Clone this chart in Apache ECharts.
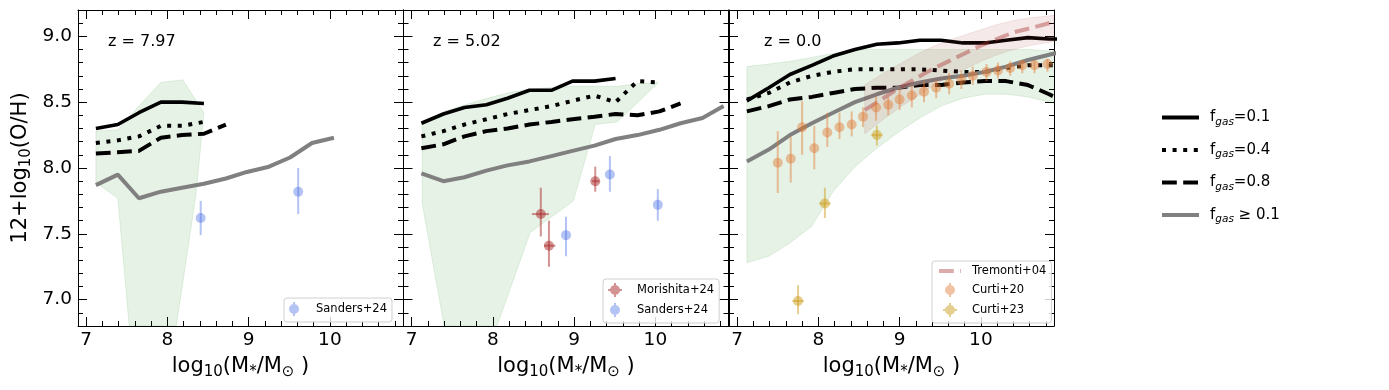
<!DOCTYPE html>
<html>
<head>
<meta charset="utf-8">
<script src="https://cdn.jsdelivr.net/npm/echarts@6/dist/echarts.min.js"></script>
<style>
  html, body { margin: 0; padding: 0; background: #fff; }
  #chart { width: 1389px; height: 390px; }
</style>
</head>
<body>
<div id="chart"></div>
<script>
// mass bins shared by the model curves
const massGrid = [7.12, 7.39, 7.65, 7.92, 8.18, 8.45, 8.72, 8.98, 9.25, 9.51, 9.78, 10.05, 10.31, 10.58, 10.84, 11.11];

// z = 7.97
const z8_f01 = [8.30, 8.33, 8.42, 8.50, 8.50, 8.49];
const z8_f04 = [8.19, 8.21, 8.24, 8.32, 8.32, 8.35];
const z8_f08 = [8.11, 8.12, 8.13, 8.23, 8.25, 8.26, 8.33];
const z8_all = [7.87, 7.95, 7.77, 7.82, 7.85, 7.88, 7.92, 7.97, 8.01, 8.08, 8.19, 8.23];
const z8_bandUpX = [7.12, 7.39, 7.65, 7.92, 8.19, 8.45];
const z8_bandUpY = [8.28, 8.29, 8.47, 8.65, 8.67, 8.42];
const z8_bandLoX = [7.12, 7.39, 7.53, 8.11, 8.35, 8.45];
const z8_bandLoY = [7.89, 7.77, 6.80, 6.80, 7.79, 8.42];

// z = 5.02
const z5_f01 = [8.34, 8.41, 8.46, 8.48, 8.53, 8.59, 8.59, 8.66, 8.66, 8.68];
const z5_f04 = [8.24, 8.28, 8.33, 8.37, 8.41, 8.44, 8.47, 8.51, 8.55, 8.50, 8.66, 8.65];
const z5_f08 = [8.15, 8.18, 8.24, 8.28, 8.30, 8.33, 8.35, 8.37, 8.39, 8.41, 8.40, 8.43, 8.49];
const z5_all = [7.96, 7.90, 7.93, 7.98, 8.02, 8.05, 8.09, 8.13, 8.17, 8.22, 8.25, 8.29, 8.34, 8.38, 8.47];
const z5_bandUpX = [7.13, 7.40, 7.66, 7.93, 8.18, 8.46, 8.71, 8.99, 9.26, 9.53, 9.77, 10.04];
const z5_bandUpY = [8.33, 8.43, 8.48, 8.53, 8.57, 8.60, 8.61, 8.62, 8.62, 8.62, 8.64, 8.65];
const z5_bandLoX = [7.13, 7.40, 8.05, 8.46, 8.99, 9.26, 9.53, 10.04];
const z5_bandLoY = [7.73, 6.80, 6.80, 7.51, 7.75, 8.33, 8.35, 8.65];

// z = 0.0
const z0_f01 = [8.51, 8.61, 8.71, 8.78, 8.85, 8.90, 8.94, 8.95, 8.97, 8.97, 8.95, 8.95, 8.97, 8.99, 8.98, 8.98];
const z0_f04 = [8.52, 8.57, 8.65, 8.70, 8.73, 8.75, 8.75, 8.75, 8.75, 8.74, 8.73, 8.73, 8.76, 8.78, 8.78, 8.78];
const z0_f08 = [8.43, 8.47, 8.52, 8.54, 8.57, 8.60, 8.61, 8.61, 8.63, 8.63, 8.65, 8.66, 8.66, 8.63, 8.56, 8.48];
const z0_all = [8.05, 8.14, 8.25, 8.34, 8.42, 8.50, 8.56, 8.61, 8.65, 8.68, 8.70, 8.73, 8.77, 8.82, 8.86, 8.90];
const z0_bandHi = [8.77, 8.79, 8.81, 8.84, 8.87, 8.90, 8.90, 8.90, 8.90, 8.90, 8.90, 8.90, 8.90, 8.90, 8.89, 8.89];
const z0_bandLo = [7.28, 7.33, 7.43, 7.56, 7.82, 8.01, 8.15, 8.27, 8.38, 8.47, 8.53, 8.56, 8.56, 8.54, 8.50, 8.46];

// Tremonti+04
const trem_x = [8.57, 8.80, 9.00, 9.20, 9.40, 9.60, 9.80, 10.00, 10.20, 10.40, 10.60, 10.90];
const trem_y = [8.44, 8.53, 8.61, 8.68, 8.75, 8.81, 8.87, 8.93, 8.98, 9.03, 9.06, 9.11];
const trem_hi = [8.63, 8.72, 8.79, 8.86, 8.92, 8.97, 9.01, 9.05, 9.09, 9.12, 9.14, 9.16];
const trem_lo = [8.26, 8.37, 8.46, 8.54, 8.62, 8.69, 8.75, 8.81, 8.86, 8.90, 8.93, 8.96];

// observations
const sand8_x = [8.41, 9.61];
const sand8_y = [7.62, 7.82];
const sand8_lo = [7.49, 7.65];
const sand8_hi = [7.75, 8.00];

const sand5_x = [8.90, 9.44, 10.03];
const sand5_y = [7.49, 7.95, 7.72];
const sand5_lo = [7.33, 7.82, 7.60];
const sand5_hi = [7.63, 8.09, 7.84];

const mori_x = [8.59, 8.69, 9.26];
const mori_y = [7.65, 7.41, 7.90];
const mori_lo = [7.48, 7.25, 7.82];
const mori_hi = [7.85, 7.60, 8.01];
const mori_xlo = [8.48, 8.63, 9.22];
const mori_xhi = [8.69, 8.77, 9.31];

const c20_x = [7.50, 7.66, 7.80, 7.95, 8.11, 8.26, 8.41, 8.55, 8.71, 8.86, 9.00, 9.15, 9.30, 9.45, 9.61, 9.76, 9.90, 10.07, 10.21, 10.36, 10.51, 10.66, 10.82];
const c20_y = [8.04, 8.07, 8.31, 8.15, 8.27, 8.31, 8.33, 8.39, 8.46, 8.48, 8.52, 8.55, 8.58, 8.61, 8.64, 8.67, 8.70, 8.73, 8.74, 8.76, 8.78, 8.78, 8.79];
const c20_lo = [7.81, 7.89, 8.10, 7.99, 8.16, 8.22, 8.24, 8.31, 8.36, 8.40, 8.44, 8.46, 8.50, 8.53, 8.56, 8.60, 8.63, 8.66, 8.68, 8.70, 8.72, 8.72, 8.73];
const c20_hi = [8.28, 8.24, 8.51, 8.32, 8.42, 8.42, 8.43, 8.46, 8.54, 8.54, 8.60, 8.63, 8.66, 8.67, 8.72, 8.74, 8.77, 8.79, 8.80, 8.81, 8.82, 8.82, 8.83];

const c23_x = [7.75, 8.08, 8.72];
const c23_y = [6.99, 7.73, 8.25];
const c23_lo = [6.89, 7.62, 8.17];
const c23_hi = [7.11, 7.85, 8.32];
const c23_xlo = [7.68, 8.01, 8.65];
const c23_xhi = [7.82, 8.15, 8.79];

const redshiftLabels = ['z = 7.97', 'z = 5.02', 'z = 0.0'];

const FONT = 'DejaVu Sans';
const panelLeft = [78, 403.5, 729];
const PW = 325, PT = 10, PH = 316;

const chart = echarts.init(document.getElementById('chart'));

const pair = (xs, ys) => ys.map((y, i) => [xs[i], y]);

const styleF01 = {color: '#000', width: 3.6, type: 'solid'};
const styleF04 = {color: '#000', width: 4, type: [4, 6.6], cap: 'butt'};
const styleF08 = {color: '#000', width: 4, type: [14.8, 6.4], cap: 'butt'};
const styleAll = {color: '#808080', width: 4, type: 'solid'};

function modelLine(name, panel, ys, style) {
  return {
    type: 'line', name, xAxisIndex: panel, yAxisIndex: panel,
    data: pair(massGrid, ys), symbol: 'none', clip: true, z: 3,
    lineStyle: style, itemStyle: {color: style.color}
  };
}

function band(panel, ux, uy, lx, ly, fill, stroke, z) {
  return {
    type: 'custom', xAxisIndex: panel, yAxisIndex: panel, clip: true, silent: true, z,
    data: [[ux[0], uy[0]]],
    renderItem: (params, api) => {
      const pts = ux.map((x, i) => api.coord([x, uy[i]]))
        .concat(lx.map((x, i) => api.coord([x, ly[i]])).reverse());
      return {type: 'polygon', shape: {points: pts}, style: {fill, stroke, lineWidth: 1}};
    }
  };
}

function errPoints(name, panel, xs, ys, lo, hi, xlo, xhi, color) {
  return {
    type: 'custom', name, xAxisIndex: panel, yAxisIndex: panel, clip: true, z: 6,
    itemStyle: {color},
    encode: {x: 0, y: 1},
    data: xs.map((x, i) => [x, ys[i], lo[i], hi[i], xlo ? xlo[i] : x, xhi ? xhi[i] : x]),
    renderItem: (params, api) => {
      const x = api.value(0), y = api.value(1);
      const c = api.coord([x, y]);
      const a = api.coord([x, api.value(2)]);
      const b = api.coord([x, api.value(3)]);
      const kids = [{type: 'line', shape: {x1: a[0], y1: a[1], x2: b[0], y2: b[1]},
        style: {stroke: color, lineWidth: 2}}];
      if (api.value(4) !== api.value(5)) {
        const l = api.coord([api.value(4), y]);
        const r = api.coord([api.value(5), y]);
        kids.push({type: 'line', shape: {x1: l[0], y1: l[1], x2: r[0], y2: r[1]},
          style: {stroke: color, lineWidth: 2}});
      }
      kids.push({type: 'circle', shape: {cx: c[0], cy: c[1], r: 5}, style: {fill: color}});
      return {type: 'group', children: kids};
    }
  };
}

const xName = '{n|log}{s|10}{n|(M}{s|*}{n|/M}{s|⊙}{n| )}';
const yName = '{n|12+log}{s|10}{n|(O/H)}';
const nameRich = {
  n: {fontFamily: FONT, fontSize: 21, lineHeight: 26, color: '#000'},
  s: {fontFamily: FONT, fontSize: 15, lineHeight: 19, verticalAlign: 'bottom', color: '#000'}
};

const tickCommon = {
  axisLine: {show: true, onZero: false, lineStyle: {color: '#000', width: 1}},
  axisTick: {show: true, inside: true, length: 9, lineStyle: {color: '#000', width: 1}},
  splitLine: {show: false},
  minorSplitLine: {show: false}
};

function makeX(i, top) {
  return Object.assign({}, tickCommon, {
    type: 'value', gridIndex: i, position: top ? 'top' : 'bottom',
    min: 6.9, max: 10.9, splitNumber: 4,
    minorTick: {show: true, splitNumber: 5, length: 5, lineStyle: {color: '#000', width: 1}},
    axisLabel: {show: !top, margin: 5, fontFamily: FONT, fontSize: 18.5, color: '#000',
      formatter: v => Math.abs(v - Math.round(v)) < 1e-6 ? String(Math.round(v)) : ''},
    name: top ? '' : xName, nameLocation: 'middle', nameGap: 28,
    nameTextStyle: {rich: nameRich}
  });
}

function makeY(i, right) {
  const labelled = !right && i === 0;
  return Object.assign({}, tickCommon, {
    type: 'value', gridIndex: i, position: right ? 'right' : 'left',
    min: 6.8, max: 9.2, splitNumber: 5,
    minorTick: {show: true, splitNumber: 5, length: 5, lineStyle: {color: '#000', width: 1}},
    axisLabel: {show: labelled, margin: 6, fontFamily: FONT, fontSize: 18.5, color: '#000',
      formatter: v => Math.abs(v * 2 - Math.round(v * 2)) < 1e-6 ? v.toFixed(1) : ''},
    name: labelled ? yName : '', nameLocation: 'middle', nameGap: 44, nameRotate: 90,
    nameTextStyle: {rich: nameRich}
  });
}

const xAxes = [], yAxes = [];
[false, true].forEach(side => {
  for (let i = 0; i < 3; i++) { xAxes.push(makeX(i, side)); yAxes.push(makeY(i, side)); }
});

const greenFill = 'rgba(0,128,0,0.1)', greenEdge = 'rgba(0,128,0,0.1)';
const cSand = 'rgba(65,105,225,0.4)';
const cMori = 'rgba(170,40,40,0.5)';
const cC20 = 'rgba(225,120,50,0.45)';
const cC23 = 'rgba(205,160,30,0.5)';
const cTrem = 'rgba(165,42,42,0.4)';

const series = [
  band(0, z8_bandUpX, z8_bandUpY, z8_bandLoX, z8_bandLoY, greenFill, greenEdge, 1),
  band(1, z5_bandUpX, z5_bandUpY, z5_bandLoX, z5_bandLoY, greenFill, greenEdge, 1),
  band(2, massGrid, z0_bandHi, massGrid, z0_bandLo, greenFill, greenEdge, 1),
  modelLine('fgas=0.1', 0, z8_f01, styleF01),
  modelLine('fgas=0.4', 0, z8_f04, styleF04),
  modelLine('fgas=0.8', 0, z8_f08, styleF08),
  modelLine('fgas≥0.1', 0, z8_all, styleAll),
  modelLine('fgas=0.1', 1, z5_f01, styleF01),
  modelLine('fgas=0.4', 1, z5_f04, styleF04),
  modelLine('fgas=0.8', 1, z5_f08, styleF08),
  modelLine('fgas≥0.1', 1, z5_all, styleAll),
  modelLine('fgas=0.1', 2, z0_f01, styleF01),
  modelLine('fgas=0.4', 2, z0_f04, styleF04),
  modelLine('fgas=0.8', 2, z0_f08, styleF08),
  modelLine('fgas≥0.1', 2, z0_all, styleAll),
  band(2, trem_x, trem_hi, trem_x, trem_lo, 'rgba(165,42,42,0.1)', 'rgba(165,42,42,0.1)', 4),
  {
    type: 'line', name: 'Tremonti+04', xAxisIndex: 2, yAxisIndex: 2, z: 5, clip: true,
    data: pair(trem_x, trem_y), symbol: 'none',
    lineStyle: {color: cTrem, width: 4, type: [14.8, 6.4], cap: 'butt'},
    itemStyle: {color: cTrem}
  },
  errPoints('Sanders+24', 0, sand8_x, sand8_y, sand8_lo, sand8_hi, null, null, cSand),
  errPoints('Morishita+24', 1, mori_x, mori_y, mori_lo, mori_hi, mori_xlo, mori_xhi, cMori),
  errPoints('Sanders+24', 1, sand5_x, sand5_y, sand5_lo, sand5_hi, null, null, cSand),
  errPoints('Curti+20', 2, c20_x, c20_y, c20_lo, c20_hi, null, null, cC20),
  errPoints('Curti+23', 2, c23_x, c23_y, c23_lo, c23_hi, c23_xlo, c23_xhi, cC23)
];

const iconV = 'path://M9,0h2v14h-2zM15,7A5,5 0 1 1 5,7A5,5 0 1 1 15,7Z';
const iconX = 'path://M9,0h2v14h-2zM3,6h14v2h-14zM15,7A5,5 0 1 1 5,7A5,5 0 1 1 15,7Z';

const smallLegend = (left, top, data) => ({
  orient: 'vertical', left, top, selectedMode: false,
  itemWidth: 22, itemHeight: 14, itemGap: 6,
  padding: [4, 5, 6, 5],
  backgroundColor: 'rgba(255,255,255,0.8)', borderColor: '#d0d0d0', borderWidth: 1, borderRadius: 3,
  lineStyle: {width: 4},
  formatter: n => '{sp|}{t|' + n + '}',
  textStyle: {rich: {sp: {width: 6}, t: {fontFamily: FONT, fontSize: 11.5, color: '#000', lineHeight: 14}}},
  data
});

const fgasLabel = {
  'fgas=0.1': '=0.1', 'fgas=0.4': '=0.4', 'fgas=0.8': '=0.8', 'fgas≥0.1': ' ≥ 0.1'
};

const option = {
  animation: false,
  textStyle: {fontFamily: FONT},
  grid: panelLeft.map(l => ({left: l, top: PT, width: PW, height: PH})),
  xAxis: xAxes,
  yAxis: yAxes,
  legend: [
    {
      orient: 'vertical', left: 1155, top: 105, selectedMode: false,
      itemWidth: 37, itemHeight: 14, itemGap: 15,
      lineStyle: {width: 4},
      itemStyle: {opacity: 0},
      data: ['fgas=0.1', 'fgas=0.4', 'fgas=0.8', 'fgas≥0.1'],
      formatter: n => '{sp|}{f|f}{s|gas}{f|' + fgasLabel[n] + '}',
      textStyle: {rich: {
        sp: {width: 6},
        f: {fontFamily: FONT, fontSize: 15, lineHeight: 20, color: '#000'},
        s: {fontFamily: FONT, fontSize: 10.5, fontStyle: 'italic', lineHeight: 11, verticalAlign: 'bottom', color: '#000'}
      }}
    },
    smallLegend(284, 298, [{name: 'Sanders+24', icon: iconV, itemStyle: {color: cSand}}]),
    smallLegend(603, 279, [
      {name: 'Morishita+24', icon: iconX, itemStyle: {color: cMori}},
      {name: 'Sanders+24', icon: iconV, itemStyle: {color: cSand}}
    ]),
    smallLegend(932, 261, [
      {name: 'Tremonti+04', itemStyle: {opacity: 0}},
      {name: 'Curti+20', icon: iconV, itemStyle: {color: cC20}},
      {name: 'Curti+23', icon: iconX, itemStyle: {color: cC23}}
    ])
  ],
  graphic: redshiftLabels.map((t, i) => ({
    type: 'text', left: [108, 433, 764][i], top: 34, z: 10,
    style: {text: t, fontFamily: FONT, fontSize: 16, fill: '#000'}
  })),
  series
};

chart.setOption(option);
</script>
</body>
</html>
